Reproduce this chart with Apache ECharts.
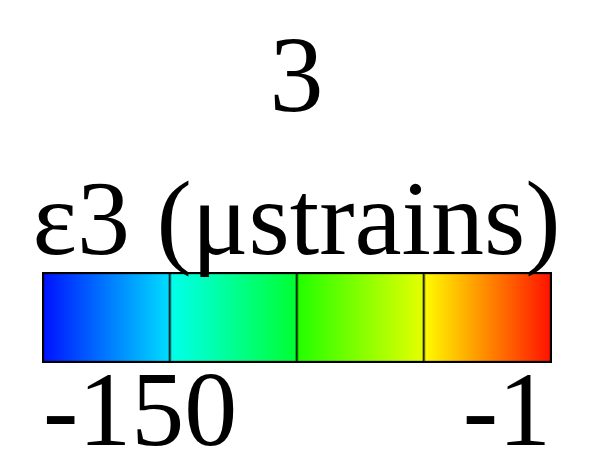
<!DOCTYPE html>
<html>
<head>
<meta charset="utf-8">
<script src="https://cdn.jsdelivr.net/npm/echarts@6/dist/echarts.min.js"></script>
<style>html,body{margin:0;padding:0;background:#fff;}#c{width:593px;height:454px;}</style>
</head>
<body>
<div id="c"></div>
<script>
const chartTitle = '3';
const barLabel = 'ε3 (μstrains)';
const tickValues = [-150, -1];
const segStart = [-150, -112.75, -75.5, -38.25];
const segEnd = [-112.75, -75.5, -38.25, -1];
const colorFrom = ['#0010ff', '#00fff0', '#20ff00', '#ffff00'];
const colorTo = ['#00e0ff', '#00ff30', '#e8ff00', '#ff1000'];

const font = '"Liberation Serif", "Times New Roman", serif';
const chart = echarts.init(document.getElementById('c'));
chart.setOption({
  animation: false,
  backgroundColor: '#fff',
  title: [
    { text: chartTitle, left: 'center', top: 24, textStyle: { fontFamily: font, fontSize: 108, fontWeight: 'normal', color: '#000' } },
    { text: barLabel, left: 'center', top: 168, textStyle: { fontFamily: font, fontSize: 106, fontWeight: 'normal', color: '#000' } }
  ],
  grid: { left: 43, right: 42, top: 273, height: 89, outerBoundsMode: 'none', containLabel: false, show: true, borderColor: '#000', borderWidth: 2, backgroundColor: 'transparent', z: 10 },
  xAxis: {
    type: 'value', min: -150, max: -1,
    splitLine: { show: false }, axisTick: { show: false }, axisLine: { show: false },
    axisLabel: {
      customValues: tickValues, alignMinLabel: 'left', alignMaxLabel: 'right',
      fontFamily: font, fontSize: 106, color: '#000', margin: 2
    }
  },
  yAxis: { type: 'value', min: 0, max: 1, show: false },
  series: [{
    type: 'custom',
    clip: true,
    data: segStart.map((s, i) => [s, segEnd[i], i]),
    renderItem: function (params, api) {
      const i = api.value(2);
      const p0 = api.coord([api.value(0), 1]);
      const p1 = api.coord([api.value(1), 0]);
      return {
        type: 'rect',
        shape: { x: p0[0], y: p0[1], width: p1[0] - p0[0], height: p1[1] - p0[1] },
        style: {
          fill: new echarts.graphic.LinearGradient(0, 0, 1, 0, [
            { offset: 0, color: colorFrom[i] }, { offset: 1, color: colorTo[i] }
          ]),
          stroke: 'rgba(0,0,0,0.6)', lineWidth: 2.5
        }
      };
    }
  }]
});
</script>
</body>
</html>
